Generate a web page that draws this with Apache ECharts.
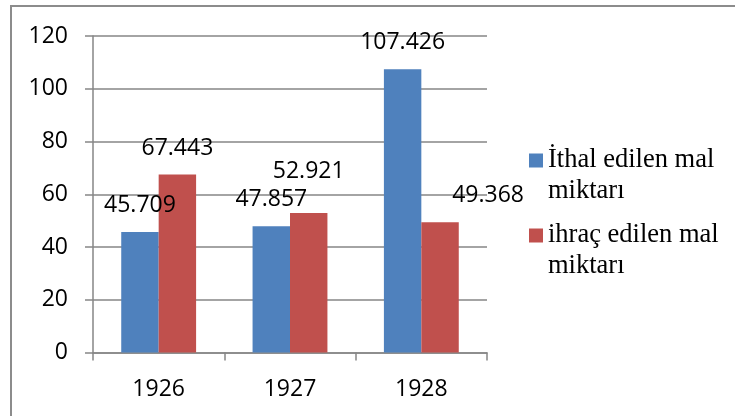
<!DOCTYPE html>
<html>
<head>
<meta charset="utf-8">
<style>
  html, body { margin: 0; padding: 0; background: #ffffff; }
  #chart { width: 735px; height: 416px; }
</style>
<script src="https://cdn.jsdelivr.net/npm/echarts@6/dist/echarts.min.js"></script>
</head>
<body>
<div id="chart"></div>
<script>
// Years on the category axis
const years = ['1926', '1927', '1928'];

// Goods imported / exported per year
const importNames = 'İthal edilen mal\nmiktarı';
const exportNames = 'ihraç edilen mal\nmiktarı';
const importValues = [45.709, 47.857, 107.426];
const exportValues = [67.443, 52.921, 49.368];

// Value axis ticks
const yTicks = [0, 20, 40, 60, 80, 100, 120];

const numberFont = 'Open Sans';
const serifFont = 'Liberation Serif';
const gridGray = '#868686';

// A few value labels sit away from their bar
const labelShift = {
  export: { 1: [0, -15], 2: [48, 0] }
};

function buildData(values, shifts) {
  return values.map((v, i) => {
    if (shifts && shifts[i]) {
      return { value: v, label: { offset: shifts[i] } };
    }
    return v;
  });
}

const valueLabel = {
  show: true,
  position: 'top',
  distance: 15,
  color: '#000',
  fontFamily: numberFont,
  fontSize: 23,
  formatter: p => p.value.toFixed(3)
};

// Legend entries: the swatch lines up with the first text line,
// so an empty leading line balances the wrapped second line.
function legendBlock(name, top) {
  return {
    data: [name],
    left: 529,
    top: top,
    padding: 0,
    orient: 'vertical',
    icon: 'rect',
    itemWidth: 14,
    itemHeight: 14,
    itemGap: 0,
    selectedMode: false,
    formatter: n => '\u00a0\n' + n,
    textStyle: {
      fontFamily: serifFont,
      fontSize: 26.5,
      lineHeight: 31,
      color: '#000'
    }
  };
}

const chart = echarts.init(document.getElementById('chart'), null, { renderer: 'canvas' });

chart.setOption({
  backgroundColor: '#ffffff',
  animation: false,
  graphic: [{
    type: 'rect',
    shape: { x: 11, y: 6, width: 760, height: 440 },
    style: { fill: 'none', stroke: '#8c8c8c', lineWidth: 2 },
    silent: true
  }],
  legend: [
    legendBlock(importNames, 114),
    legendBlock(exportNames, 189)
  ],
  grid: {
    left: 93,
    right: 248,
    top: 36,
    bottom: 63.5,
    containLabel: false
  },
  xAxis: {
    type: 'category',
    data: years,
    boundaryGap: true,
    axisLine: { show: true, lineStyle: { color: gridGray, width: 1.5 } },
    axisTick: { show: true, length: 8, lineStyle: { color: gridGray, width: 1.5 } },
    axisLabel: {
      margin: 25,
      color: '#000',
      fontFamily: numberFont,
      fontSize: 23
    }
  },
  yAxis: {
    type: 'value',
    min: yTicks[0],
    max: yTicks[yTicks.length - 1],
    interval: yTicks[1] - yTicks[0],
    axisLine: { show: true, lineStyle: { color: gridGray, width: 1.5 } },
    axisTick: { show: true, length: 8, lineStyle: { color: gridGray, width: 1.5 } },
    splitLine: { show: true, lineStyle: { color: gridGray, width: 1.5 } },
    axisLabel: {
      margin: 25,
      color: '#000',
      fontFamily: numberFont,
      fontSize: 23
    }
  },
  series: [
    {
      name: importNames,
      type: 'bar',
      data: buildData(importValues, null),
      itemStyle: { color: '#4F81BD' },
      barGap: '0%',
      barCategoryGap: '43%',
      label: valueLabel
    },
    {
      name: exportNames,
      type: 'bar',
      data: buildData(exportValues, labelShift.export),
      itemStyle: { color: '#C0504D' },
      barGap: '0%',
      barCategoryGap: '43%',
      label: valueLabel
    }
  ]
});
</script>
</body>
</html>
